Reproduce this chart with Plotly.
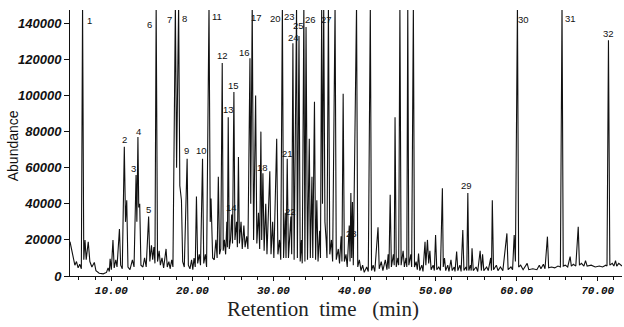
import plotly.graph_objects as go

# Chromatogram polyline vertices (retention time in min, abundance)
trace_rt = [
    4.9, 5.2, 5.5, 5.7, 5.9, 6.1, 6.3, 6.45, 6.6, 6.75, 6.9, 7.15, 7.35, 7.6, 7.9, 8.1, 8.5, 9.0, 9.4, 9.6,
    9.75, 9.85, 10.0, 10.2, 10.35, 10.55, 10.7, 11.0, 11.15, 11.35, 11.6, 11.75, 11.9, 12.05, 12.3, 12.6, 12.8,
    13.05, 13.15, 13.28, 13.38, 13.5, 13.65, 13.9, 14.1, 14.3, 14.6, 14.75, 14.95, 15.1, 15.25, 15.38, 15.53,
    15.7, 15.9, 16.05, 16.25, 16.45, 16.75, 16.9, 17.1, 17.25, 17.45, 17.6, 17.9, 18.05, 18.3, 18.45, 18.65,
    18.8, 19.0, 19.35, 19.5, 19.7, 19.9, 20.05, 20.2, 20.35, 20.5, 20.65, 20.85, 21.0, 21.25, 21.4, 21.6, 21.75,
    22.05, 22.2, 22.3, 22.5, 22.7, 22.9, 23.05, 23.2, 23.35, 23.5, 23.68, 23.8, 23.95, 24.1, 24.25, 24.32,
    24.42, 24.55, 24.7, 24.85, 24.95, 25.12, 25.25, 25.45, 25.55, 25.68, 25.8, 26.0, 26.15, 26.35, 26.5,
    26.7, 26.85, 27.1, 27.2, 27.38, 27.55, 27.8, 27.95, 28.15, 28.3, 28.45, 28.55, 28.7, 28.85, 29.05, 29.2,
    29.55, 29.7, 29.9, 30.05, 30.4, 30.55, 30.75, 30.9, 31.1, 31.25, 31.45, 31.55, 31.7, 31.85, 32.15, 32.25,
    32.4, 32.55, 32.85, 32.95, 33.15, 33.3, 33.45, 33.55, 33.75, 33.88, 34.02, 34.2, 34.42, 34.55, 34.75,
    34.85, 35.06, 35.2, 35.35, 35.5, 35.7, 35.8, 35.95, 36.05, 36.2, 36.35, 36.5, 36.6, 36.78, 36.95, 37.15,
    37.3, 37.6, 37.75, 38.0, 38.15, 38.35, 38.45, 38.6, 38.75, 38.95, 39.1, 39.35, 39.45, 39.55, 39.65, 39.75,
    39.85, 40.25, 40.4, 40.6, 40.8, 41.0, 41.2, 41.5, 41.7, 41.95, 42.1, 42.3, 42.5, 42.9, 43.05, 43.3, 43.5,
    43.8, 44.0, 44.15, 44.25, 44.4, 44.55, 44.8, 44.9, 45.0, 45.15, 45.35, 45.45, 45.6, 45.75, 46.0, 46.15,
    46.35, 46.45, 46.57, 46.7, 46.95, 47.05, 47.26, 47.4, 47.6, 47.75, 47.9, 48.05, 48.3, 48.45, 48.7, 48.8,
    49.0, 49.15, 49.3, 49.45, 49.7, 49.85, 50.0, 50.15, 50.4, 50.6, 50.84, 50.95, 51.1, 51.25, 51.5, 51.65,
    51.9, 52.05, 52.3, 52.4, 52.6, 52.75, 53.0, 53.15, 53.36, 53.5, 53.75, 53.85, 53.98, 54.1, 54.3, 54.4,
    54.5, 54.65, 55.0, 55.2, 55.5, 55.65, 55.8, 55.95, 56.3, 56.5, 56.8, 56.9, 57.0, 57.15, 57.5, 57.7, 58.0,
    58.3, 58.8, 58.95, 59.3, 59.5, 59.7, 59.85, 60.1, 60.25, 60.5, 60.8, 61.3, 61.5, 62.0, 62.5, 62.8, 63.0,
    63.3, 63.5, 63.8, 63.95, 64.3, 64.7, 65.1, 65.4, 65.6, 65.75, 66.0, 66.3, 66.6, 66.75, 67.0, 67.3, 67.6,
    67.75, 68.0, 68.3, 68.5, 68.7, 69.2, 69.7, 70.2, 70.6, 71.0, 71.15, 71.33, 71.5, 71.8, 72.0, 72.2, 72.35,
    72.6, 73.0,
]
trace_abundance = [
    19000, 12000, 6000, 8000, 4500, 6500, 4000, 150000, 9000, 20000, 9000, 19000, 8000, 5000, 7500, 3000, 1500,
    1200, 2000, 4500, 2500, 9500, 3500, 20000, 4500, 9000, 5000, 26000, 6000, 4000, 71600, 30000, 42000, 5000,
    3500, 9000, 5000, 56000, 30000, 77000, 38000, 40000, 6000, 5000, 10000, 5000, 33000, 8000, 17000, 9000,
    16000, 7000, 150000, 8000, 14000, 6000, 10000, 4500, 15000, 5000, 8000, 4000, 9000, 5000, 150000, 60000,
    150000, 50000, 42000, 8000, 5000, 65000, 6000, 4000, 9000, 3500, 10000, 5000, 44000, 7000, 12000, 6000,
    65000, 7000, 12000, 5000, 150000, 30000, 43000, 10000, 9000, 20000, 10000, 55000, 12000, 15000, 118000,
    14000, 20000, 12000, 30000, 16000, 88000, 15000, 20000, 34000, 18000, 102000, 20000, 30000, 16000, 66000,
    18000, 30000, 15000, 28000, 16000, 22000, 15000, 120600, 40000, 150000, 20000, 100000, 18000, 35000,
    15000, 80000, 20000, 57000, 14000, 40000, 12000, 58000, 12000, 30000, 10000, 76000, 12000, 20000, 9000,
    150000, 10000, 35000, 10000, 65000, 10000, 33000, 12000, 129000, 9000, 150000, 10000, 133000, 8000,
    20000, 7000, 150000, 8000, 138000, 9000, 76000, 10000, 55000, 10000, 96600, 9000, 42000, 8000, 25000,
    10000, 150000, 40000, 150000, 30000, 20000, 10000, 150000, 12000, 20000, 8000, 150000, 9000, 15000, 7000,
    22000, 8000, 101000, 8000, 12000, 5000, 28000, 8000, 46000, 10000, 41000, 6000, 150000, 5000, 9000, 3000,
    6000, 2000, 5000, 2500, 150000, 3000, 6000, 2500, 27000, 4000, 8000, 3000, 9000, 3500, 12000, 4000, 45000,
    5000, 12000, 6000, 88000, 5000, 10000, 6000, 150000, 6000, 14000, 5000, 10000, 5000, 150000, 6000, 12000,
    5000, 150000, 5000, 8000, 3500, 12500, 3000, 6000, 2500, 19000, 6000, 20000, 7000, 14000, 3500, 6000,
    3000, 22700, 3500, 5000, 3000, 48600, 5000, 10000, 3000, 6000, 2500, 9000, 3000, 5000, 2500, 13500, 3000,
    6000, 2500, 25500, 3000, 5000, 3000, 46000, 3000, 6000, 3000, 15300, 3000, 5000, 2500, 14000, 3000,
    12000, 3000, 5000, 3000, 10000, 3000, 42000, 3500, 6000, 3000, 5000, 3000, 23600, 3500, 5000, 3500, 22700,
    8000, 150000, 5000, 6000, 3500, 7000, 3500, 4000, 3500, 6000, 4000, 6500, 4000, 21800, 4500, 5000, 4500,
    5500, 5000, 150000, 5500, 6000, 5000, 10700, 5500, 6500, 5500, 27300, 6000, 7000, 5500, 8500, 5500, 6000,
    5000, 5500, 5000, 6000, 5500, 130700, 6000, 7000, 5500, 8500, 5500, 7000, 5500,
]

# Peak numbers and where their labels sit (min, abundance)
label_text = ["1", "2", "3", "4", "5", "6", "7", "8", "9", "10", "11", "12", "13", "14", "15", "16",
              "17", "18", "20", "21", "22", "23", "24", "25", "26", "27", "28", "29", "30", "31", "32"]
label_rt = [7.3, 11.58, 12.69, 13.31, 14.54, 14.75, 17.22, 19.07, 19.28, 21.1, 23.0, 23.7, 24.42, 24.84,
            25.04, 26.48, 27.92, 28.6, 30.3, 31.7, 32.16, 31.95, 32.45, 33.15, 34.63, 36.57, 39.65, 53.85,
            60.84, 66.6, 71.3]
label_abund = [141800, 75700, 59700, 80300, 37000, 139600, 142200, 142700, 69800, 69800, 144000, 122400,
               92300, 38000, 105800, 123700, 143300, 60000, 142700, 68000, 35600, 144000, 132200, 139000,
               142200, 142200, 23300, 49900, 142200, 142700, 134500]

y_ticks = [0, 20000, 40000, 60000, 80000, 100000, 120000, 140000]
x_ticks = [10, 20, 30, 40, 50, 60, 70]
x_tick_text = ["10.00", "20.00", "30.00", "40.00", "50.00", "60.00", "70.00"]

fig = go.Figure()
fig.add_trace(go.Scatter(
    x=trace_rt, y=trace_abundance, mode="lines",
    line=dict(color="#111111", width=1.1), hoverinfo="skip", showlegend=False,
))

for txt, xr, ya in zip(label_text, label_rt, label_abund):
    fig.add_annotation(x=xr, y=ya, text=txt, showarrow=False,
                       font=dict(family="Liberation Sans", size=9.5, color="#111111"),
                       xanchor="center", yanchor="middle")

fig.add_annotation(xref="paper", yref="paper", x=0.458, y=-0.125, yanchor="middle",
                   text="Retention\u00a0\u00a0time\u00a0\u00a0\u00a0(min)", showarrow=False,
                   font=dict(family="Liberation Serif", size=21, color="#222222"))

fig.add_annotation(xref="paper", yref="paper", x=-0.104, y=0.49, xanchor="center", yanchor="middle",
                   text="Abundance", textangle=-90, showarrow=False,
                   font=dict(family="Liberation Sans", size=14, color="#111111"))

fig.update_layout(
    width=624, height=327,
    margin=dict(l=70, r=2, t=10, b=51),
    paper_bgcolor="white", plot_bgcolor="white",
    xaxis=dict(
        range=[4.9, 73.0], showgrid=False, zeroline=False,
        showline=True, linecolor="#111111", linewidth=1,
        ticks="outside", ticklen=4, tickcolor="#111111",
        tickvals=x_ticks, ticktext=x_tick_text,
        tickfont=dict(family="Liberation Mono", size=11, color="#111111", weight="bold", style="italic"),
        minor=dict(dtick=2, ticks="outside", ticklen=3, tickcolor="#111111"),
    ),
    yaxis=dict(
        range=[0, 147400], showgrid=False, zeroline=False,
        showline=True, linecolor="#111111", linewidth=1,
        ticks="outside", ticklen=5, tickcolor="#111111",
        tickvals=y_ticks, ticktext=[str(v) for v in y_ticks],
        tickfont=dict(family="Liberation Sans", size=13, color="#111111", weight="bold", style="italic"),
    ),
)

fig.write_html("out.html")
